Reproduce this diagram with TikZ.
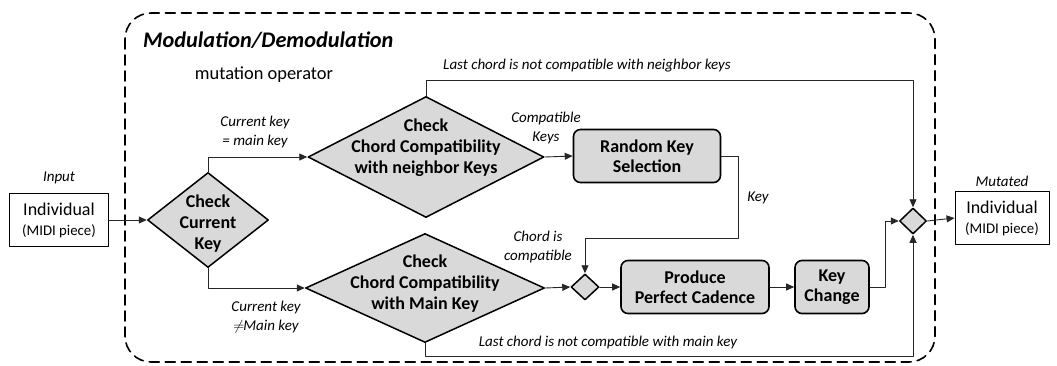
\documentclass[tikz,border=0pt]{standalone}
\usepackage{fontspec}
\setmainfont{Carlito}
\usetikzlibrary{shapes.geometric,arrows.meta}

\definecolor{boxgray}{rgb}{0.85,0.85,0.85}
\definecolor{linegray}{rgb}{0.15,0.15,0.15}

\begin{document}
\begin{tikzpicture}[x=1pt,y=-1pt,line cap=round,line join=round,
    flow/.style={-{Triangle[length=8pt,width=7pt]},line width=0.9pt,color=linegray},
    decision/.style={diamond,draw,fill=boxgray,line width=1.5pt,inner sep=0pt},
    dtext/.style={align=center,font=\fontsize{18}{21}\selectfont\bfseries},
    process/.style={rectangle,rounded corners=7pt,draw,fill=boxgray,line width=1.6pt,
      align=center,font=\fontsize{18}{20.5}\selectfont\bfseries},
    piece/.style={rectangle,draw,line width=0.9pt,minimum width=99pt,minimum height=53pt,
      align=center,inner sep=2pt,font=\fontsize{18}{20}\selectfont},
    note/.style={font=\fontsize{15}{19}\selectfont\itshape,align=center,inner sep=0pt}]
  \useasboundingbox (0,0) rectangle (1057,365);

  % operator frame
  \draw[line width=1.6pt,dash pattern=on 10pt off 6pt,rounded corners=26pt] (125,13) rectangle (935,362);
  \node[font=\fontsize{22.3}{26}\selectfont\bfseries\itshape,anchor=west,inner sep=0pt] (title) at (143,40) {Modulation/Demodulation};
  \node[font=\fontsize{18.4}{22}\selectfont] (subtitle) at (264,75) {mutation operator};

  % input and output pieces
  \node[piece] (in) at (59,220) {Individual\\{\fontsize{14.8}{18}\selectfont (MIDI piece)}};
  \node[note] (inlbl) at (59,178) {Input};
  \node[piece,minimum width=94pt] (out) at (1002,218) {Individual\\{\fontsize{14.8}{18}\selectfont (MIDI piece)}};
  \node[note] (outlbl) at (1002,181) {Mutated};

  % decisions
  \node[decision,minimum width=121pt,minimum height=95pt,
    label={[dtext,yshift=-4pt]center:Check\\Current\\Key}] (ccur) at (208,220) {};
  \node[decision,minimum width=236pt,minimum height=121pt,
    label={[dtext,yshift=9pt]center:Check\\Chord Compatibility\\with neighbor Keys}] (cnb) at (426,157) {};
  \node[decision,minimum width=239pt,minimum height=109pt,
    label={[dtext,yshift=4pt]center:Check\\Chord Compatibility\\with Main Key}] (cmain) at (425,288) {};
  \node[decision,minimum width=28pt,minimum height=26pt] (join) at (585,287) {};
  \node[decision,minimum width=27pt,minimum height=26pt] (merge) at (913,221) {};

  % processes
  \node[process,minimum width=147pt,minimum height=53pt] (rks) at (647,156) {Random Key\\Selection};
  \node[process,minimum width=148pt,minimum height=53pt] (ppc) at (695,287) {Produce\\Perfect Cadence};
  \node[process,minimum width=74pt,minimum height=53pt] (kc) at (832,287) {Key\\Change};

  % bends
  \coordinate (topline) at (913,80);
  \coordinate (botline) at (913,356);
  \coordinate (keyturn) at (738,238);
  \coordinate (kcturn) at (885,287);

  % connectors
  \draw[flow] (in.east) -- (ccur.west);
  \draw[flow] (ccur.north) |- (cnb.west);
  \draw[flow] (ccur.south) |- (cmain.west);
  \draw[flow] (cnb.north) |- (topline) -- (merge.north);
  \draw[flow] (cnb.east) -- (rks.west);
  \draw[flow] (rks.east) -| (keyturn) -| (join.north);
  \draw[flow] (cmain.east) -- (join.west);
  \draw[flow] (join.east) -- (ppc.west);
  \draw[flow] (ppc.east) -- (kc.west);
  \draw[flow] (kc.east) -- (kcturn) |- (merge.west);
  \draw[flow] (cmain.south) |- (botline) -- (merge.south);
  \draw[flow] (merge.east) -- (out.west);

  % branch labels
  \node[note] (lbleq) at (255,132) {Current key\\= main key};
  \node[note] (lblne) at (266,317) {Current key\\$\neq$\kern-1pt Main key};
  \node[note] (lblnb) at (587,66) {Last chord is not compatible with neighbor keys};
  \node[note] (lblmk) at (608,342) {Last chord is not compatible with main key};
  \node[note] (lblck) at (546,128) {Compatible\\Keys};
  \node[note] (lblok) at (538,247) {Chord is\\compatible};
  \node[note] (lblkey) at (758,198) {Key};
\end{tikzpicture}
\end{document}
